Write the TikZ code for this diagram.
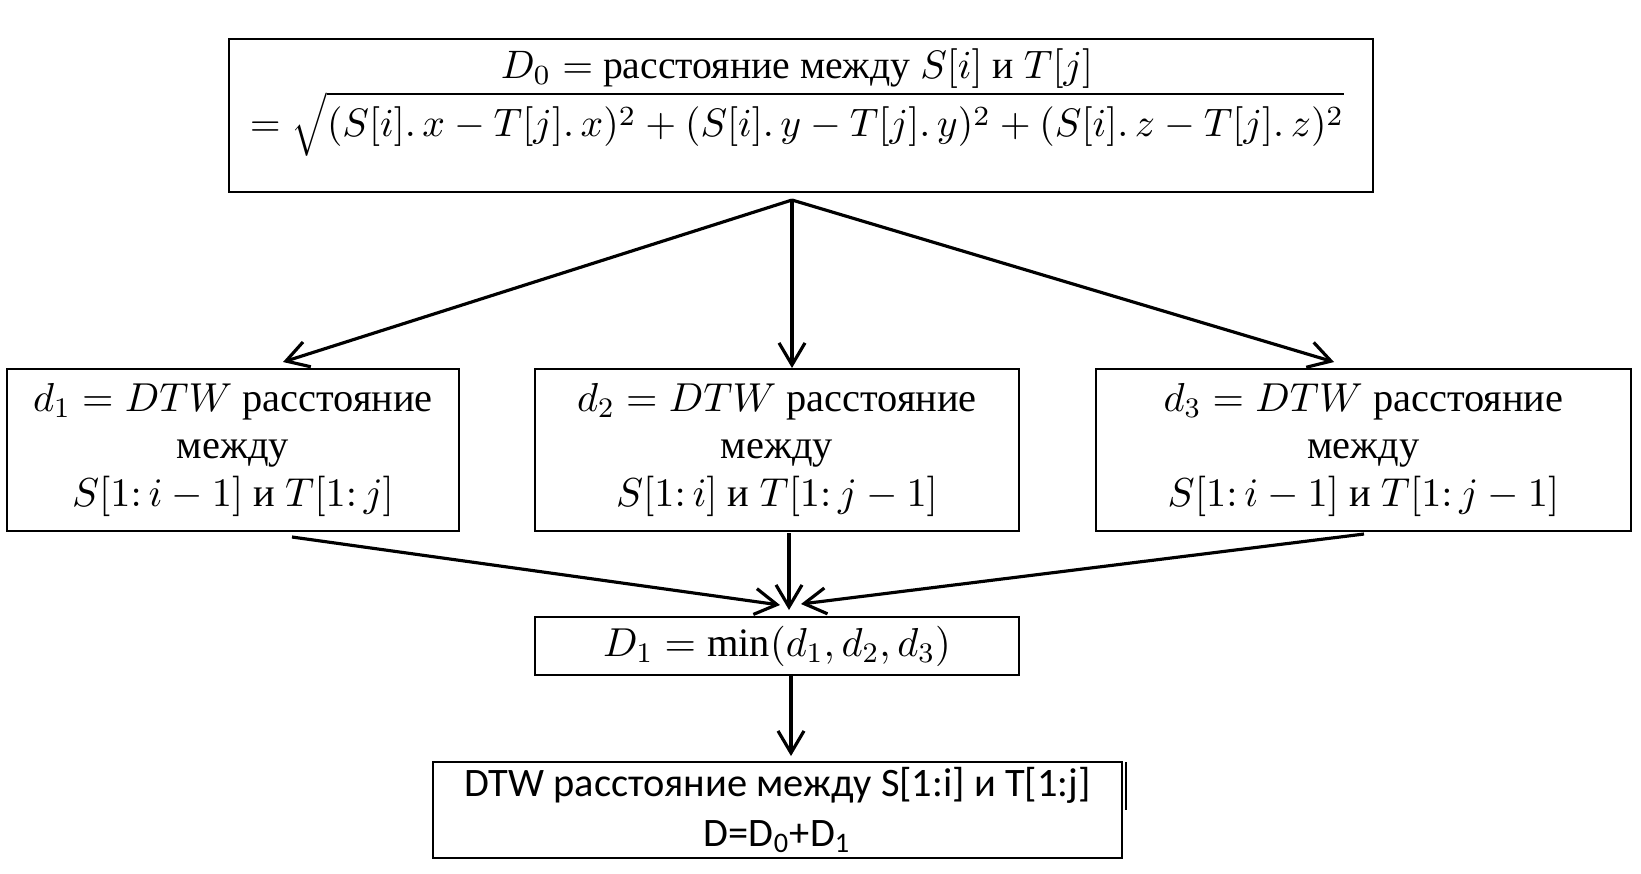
\RequirePackage{fix-cm}
\documentclass[tikz,border=0pt]{standalone}
\usepackage{fontspec}
\setmainfont{Liberation Serif}
\newfontfamily\carlito{Carlito}
\usetikzlibrary{arrows.meta,calc}

\begin{document}
\begin{tikzpicture}[x=0.1mm,y=-0.1mm]
\tikzset{boite/.style={draw, line width=0.5pt, inner sep=0pt, align=center, font=\fontsize{11.5}{13.5}\selectfont},
  fleche/.style={-{Straight Barb[length=2.2mm,width=2.6mm]}, line width=0.9pt}}
\useasboundingbox (0,0) rectangle (1641,873);
\node[boite, minimum width=1144*0.1mm, minimum height=153*0.1mm] (D0) at (801,115.5) {};
\node[align=center, anchor=north, inner sep=0pt, font=\fontsize{11.3}{13.2}\selectfont] (D0txt) at (797,48)
  {$D_0 =$ расстояние между $S[i]$ и $T[j]$\\
  $= \sqrt{(S[i].\,x - T[j].\,x)^2 + (S[i].\,y - T[j].\,y)^2 + (S[i].\,z - T[j].\,z)^2}$};
\node[boite, minimum width=452*0.1mm, minimum height=162*0.1mm] (d1) at (233,450)
  {$d_1 = DTW$ расстояние\\между\\$S[1\colon i-1]$ и $T[1\colon j]$};
\node[boite, minimum width=484*0.1mm, minimum height=162*0.1mm] (d2) at (777,450)
  {$d_2 = DTW$ расстояние\\между\\$S[1\colon i]$ и $T[1\colon j-1]$};
\node[boite, minimum width=535*0.1mm, minimum height=162*0.1mm] (d3) at (1363.5,450)
  {$d_3 = DTW$ расстояние\\между\\$S[1\colon i-1]$ и $T[1\colon j-1]$};
\node[boite, minimum width=484*0.1mm, minimum height=58*0.1mm] (D1) at (777,646)
  {$D_1 = \min(d_1, d_2, d_3)$};
\node[boite, minimum width=689*0.1mm, minimum height=96*0.1mm, font=\carlito\fontsize{11.5}{14}\selectfont] (D) at (777.5,810)
  {DTW расстояние между S[1:i] и T[1:j]\\D=D\textsubscript{0}+D\textsubscript{1}};
% points des fleches
\coordinate (haut) at (792,200);
\coordinate (p1) at (283,362);
\coordinate (p2) at (792,368);
\coordinate (p3) at (1334,362);
\coordinate (s1) at (292,537);
\coordinate (s2) at (789,533);
\coordinate (s3) at (1364,534);
\coordinate (q1) at (780,605);
\coordinate (q2) at (789,610);
\coordinate (q3) at (801,604);
\coordinate (s4) at (791,676);
\coordinate (q4) at (791,756);
\draw[fleche] (haut) -- (p1);
\draw[fleche] (haut) -- (p2);
\draw[fleche] (haut) -- (p3);
\draw[fleche] (s1) -- (q1);
\draw[fleche] (s2) -- (q2);
\draw[fleche] (s3) -- (q3);
\draw[fleche] (s4) -- (q4);
\draw[line width=0.7pt] ($(D.north east)+(3,1)$) -- ++(0,48);
\end{tikzpicture}
\end{document}
